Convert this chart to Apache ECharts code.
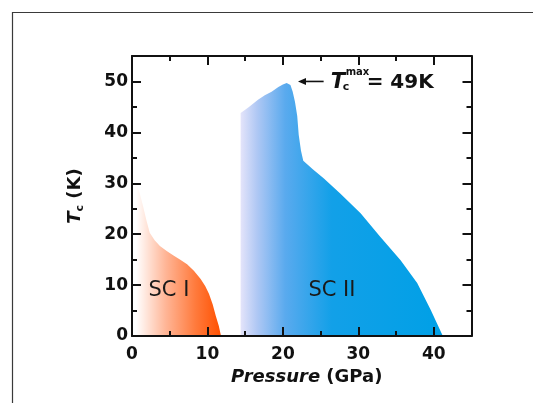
<!DOCTYPE html>
<html><head><meta charset="utf-8">
<script src="https://cdn.jsdelivr.net/npm/echarts@6/dist/echarts.min.js"></script>
<style>html,body{margin:0;padding:0;background:#fff}#c{width:533px;height:403px}</style>
</head><body><div id="c"></div>
<script>
// ---- data ----
const sc1Pressure = [0.55, 0.55, 1.0, 1.45, 1.9, 2.35, 3.0, 3.7, 4.6, 5.5, 6.4, 7.3, 8.2, 9.1, 9.7, 10.2, 10.7, 11.1, 11.5, 11.8];
const sc1Tc       = [0, 30, 28.2, 25.6, 22.8, 20.3, 18.8, 17.7, 16.7, 15.8, 15.0, 14.1, 12.8, 11.2, 9.8, 8.3, 6.2, 4.0, 2.0, 0];
const sc2Pressure = [14.4, 14.4, 15.5, 16.7, 17.6, 18.5, 19.4, 20.0, 20.5, 21.0, 21.3, 21.6, 21.9, 22.1, 22.4, 22.7, 24.0, 25.4, 27.6, 30.3, 32.9, 35.6, 37.8, 39.6, 41.2];
const sc2Tc       = [0, 43.8, 45.0, 46.4, 47.3, 48.0, 48.9, 49.4, 49.7, 49.3, 48.0, 46.0, 43.2, 39.5, 36.4, 34.4, 32.7, 31.0, 28.0, 24.1, 19.5, 14.9, 10.4, 5.1, 0];
const xTicks = [0, 10, 20, 30, 40];
const yTicks = [0, 10, 20, 30, 40, 50];
const phaseLabels = [{text: 'SC I', p: 4.9, t: 9.0}, {text: 'SC II', p: 26.5, t: 8.9}];
const maxNote = {headP: 22.0, tailP: 25.4, t: 50, label: '= 49K'};

const F = 'DejaVu Sans, Verdana, sans-serif';
const chart = echarts.init(document.getElementById('c'));
const toPairs = (a, b) => a.map((v, i) => [v, b[i]]);
const lbl = v => (v % 10 === 0 ? String(v) : '');

const axisCommon = {
  type: 'value', z: 10,
  axisLine: {show: true, onZero: false, lineStyle: {color: '#111', width: 2}},
  axisTick: {show: true, inside: true, length: 9, lineStyle: {color: '#111', width: 2}},
  minorTick: {show: true, splitNumber: 2, length: 5, lineStyle: {color: '#111', width: 2}},
  splitLine: {show: false},
  minorSplitLine: {show: false}
};

chart.setOption({
  animation: false,
  grid: {left: 132, right: 61.5, top: 56, bottom: 67, show: false},
  xAxis: [
    Object.assign({}, axisCommon, {
      position: 'bottom', min: 0, max: 45, interval: 10,
      axisLabel: {formatter: lbl, showMaxLabel: false, color: '#111', fontFamily: F, fontWeight: 'bold', fontSize: 17, margin: 10},
      name: '{i|Pressure}{n| (GPa)}', nameLocation: 'middle', nameGap: 27,
      nameTextStyle: {padding: [0, 0, 0, 10], rich: {
        i: {fontFamily: F, fontStyle: 'italic', fontWeight: 'bold', fontSize: 18, color: '#111'},
        n: {fontFamily: F, fontWeight: 'bold', fontSize: 18, color: '#111'}
      }}
    }),
    Object.assign({}, axisCommon, {position: 'top', min: 0, max: 45, interval: 10, axisLabel: {show: false}})
  ],
  yAxis: [
    Object.assign({}, axisCommon, {
      position: 'left', min: 0, max: 55, interval: 10,
      axisLabel: {formatter: lbl, showMaxLabel: false, color: '#111', fontFamily: F, fontWeight: 'bold', fontSize: 17, margin: 4},
      name: '{i|T}{s|c}{n| (K)}', nameLocation: 'middle', nameGap: 46, nameRotate: 90,
      nameTextStyle: {rich: {
        i: {fontFamily: F, fontStyle: 'italic', fontWeight: 'bold', fontSize: 18, color: '#111', lineHeight: 22},
        s: {fontFamily: F, fontWeight: 'bold', fontSize: 11, color: '#111', verticalAlign: 'bottom', lineHeight: 22, padding: [9, 0, 0, 0]},
        n: {fontFamily: F, fontWeight: 'bold', fontSize: 18, color: '#111', lineHeight: 22}
      }}
    }),
    Object.assign({}, axisCommon, {position: 'right', min: 0, max: 55, interval: 10, axisLabel: {show: false}})
  ],
  series: [
    {
      type: 'line', data: toPairs(sc1Pressure, sc1Tc), showSymbol: false, z: 1,
      lineStyle: {width: 0, opacity: 0},
      areaStyle: {opacity: 1, color: new echarts.graphic.LinearGradient(0, 0, 1, 0, [
        {offset: 0, color: '#ffffff'}, {offset: 0.35, color: '#ffb596'}, {offset: 0.7, color: '#ff7a3c'}, {offset: 1, color: '#ff5000'}
      ])}
    },
    {
      type: 'line', data: toPairs(sc2Pressure, sc2Tc), showSymbol: false, z: 1,
      lineStyle: {width: 0, opacity: 0},
      areaStyle: {opacity: 1, color: new echarts.graphic.LinearGradient(0, 0, 1, 0, [
        {offset: 0, color: '#e4e4fa'}, {offset: 0.08, color: '#b0c8f4'}, {offset: 0.22, color: '#5aaaee'}, {offset: 0.45, color: '#12a0e8'}, {offset: 1, color: '#00a0e6'}
      ])}
    }
  ]
});

function place() {
  const px = (p, t) => chart.convertToPixel({xAxisIndex: 0, yAxisIndex: 0}, [p, t]);
  const els = [{
    type: 'rect', silent: true, z: 0,
    shape: {x: 12.5, y: 12.5, width: 700, height: 600},
    style: {fill: 'none', stroke: '#3a3a3a', lineWidth: 1.2}
  }];
  phaseLabels.forEach(l => {
    const [x, y] = px(l.p, l.t);
    els.push({type: 'text', x, y, z: 10, style: {text: l.text, fill: '#1a1a1a', font: '21px ' + F, align: 'center', verticalAlign: 'middle'}});
  });
  const [ax0, ay] = px(maxNote.headP, maxNote.t);
  const [ax1] = px(maxNote.tailP, maxNote.t);
  els.push({type: 'line', z: 10, shape: {x1: ax1, y1: ay, x2: ax0 + 6, y2: ay}, style: {stroke: '#111', lineWidth: 1.6}});
  els.push({type: 'polygon', z: 10, shape: {points: [[ax0, ay], [ax0 + 8, ay - 3.5], [ax0 + 8, ay + 3.5]]}, style: {fill: '#111'}});
  const tx = ax1 + 7;
  els.push({type: 'text', z: 10, x: tx, y: ay + 1, style: {text: 'T', fill: '#111', font: 'italic bold 21px ' + F, verticalAlign: 'middle'}});
  els.push({type: 'text', z: 10, x: tx + 12, y: ay + 6, style: {text: 'c', fill: '#111', font: 'bold 11px ' + F, verticalAlign: 'middle'}});
  els.push({type: 'text', z: 10, x: tx + 15, y: ay - 9, style: {text: 'max', fill: '#111', font: 'bold 10px ' + F, verticalAlign: 'middle'}});
  els.push({type: 'text', z: 10, x: tx + 36, y: ay + 1, style: {text: maxNote.label, fill: '#111', font: 'bold 20px ' + F, verticalAlign: 'middle'}});
  chart.setOption({graphic: els});
}
place();
</script></body></html>
